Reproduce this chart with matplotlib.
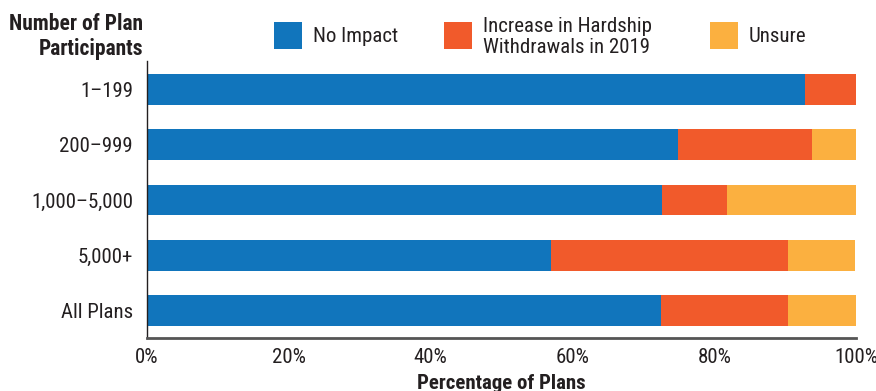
import matplotlib
matplotlib.use("Agg")
import matplotlib.pyplot as plt
from matplotlib.patches import Rectangle
import numpy as np

categories = ["1\u2013199", "200\u2013999", "1,000\u20135,000", "5,000+", "All Plans"]
no_impact = [92.8, 74.9, 72.6, 57.0, 72.5]
increase = [7.2, 18.9, 9.2, 33.4, 17.9]
unsure = [0.0, 6.2, 18.2, 9.5, 9.6]
series_names = ["No Impact", "Increase in Hardship\nWithdrawals in 2019", "Unsure"]
colors = ["#1175BC", "#F15A2B", "#FBB040"]
xticks = [0, 20, 40, 60, 80, 100]

FAM = ["Roboto Condensed", "DejaVu Sans"]
plt.rcParams['font.family'] = FAM

fig = plt.figure(figsize=(8.76, 3.91), dpi=100)
W, H = 876, 391
ax = fig.add_axes([147 / W, 1 - 338 / H, (856 - 147) / W, (338 - 61) / H])

y = np.arange(len(categories))
left = np.zeros(len(categories))
for vals, c in zip([no_impact, increase, unsure], colors):
    ax.barh(y, vals, left=left, height=0.56, color=c, linewidth=0)
    left = left + np.array(vals)

ax.set_xlim(0, 100)
ax.set_ylim(4.5, -0.518)
ax.set_yticks(y)
ax.set_yticklabels(categories, fontsize=15, color="#231F20")
ax.set_xticks(xticks)
ax.set_xticklabels([f"{t}%" for t in xticks], fontsize=15, color="#231F20")
ax.tick_params(axis='y', length=0, pad=10)
ax.tick_params(axis='x', length=0, pad=7)
for s in ["top", "right"]:
    ax.spines[s].set_visible(False)
ax.spines["left"].set_color("#231F20")
ax.spines["left"].set_linewidth(1.0)
ax.spines["bottom"].set_color("#555555")
ax.spines["bottom"].set_linewidth(2.0)

ax.set_xlabel("Percentage of Plans", fontsize=15, fontweight="bold", color="#231F20", labelpad=5)

fig.text(143 / W, 1 - 13 / H, "Number of Plan\nParticipants", ha="right", va="top",
         fontsize=15.5, fontweight="bold", color="#231F20", linespacing=1.15)

# legend
patch_x = [274, 444, 710]
for px, c, name in zip(patch_x, colors, series_names):
    fig.patches.append(Rectangle((px / W, 1 - 49 / H), 28 / W, 27 / H,
                                 transform=fig.transFigure, color=c, linewidth=0))
    fig.text((px + 39) / W, 1 - 37 / H, name, ha="left", va="center",
             fontsize=15, color="#231F20", linespacing=1.15)

fig.savefig("out.png", dpi=100)
